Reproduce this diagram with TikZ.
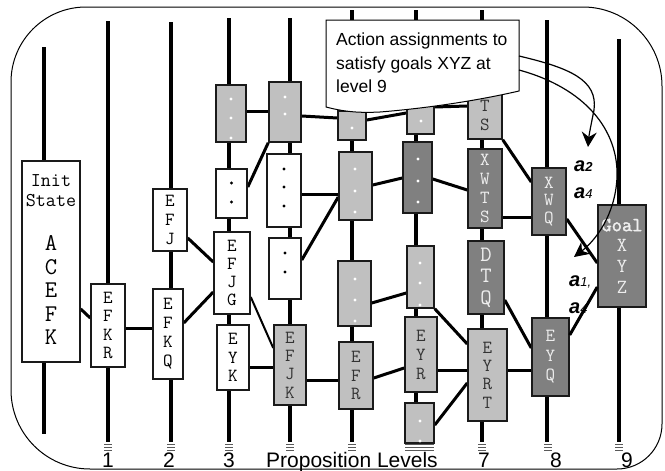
\documentclass[tikz,border=0pt]{standalone}
\usepackage{fontspec}
\setmainfont{Liberation Sans}
\newfontfamily\boldmono{Latin Modern Mono}[FakeBold=2]
\usetikzlibrary{arrows.meta,calc}
\pgfdeclarelayer{bg}
\pgfdeclarelayer{fg}
\pgfsetlayers{bg,main,fg}
\definecolor{lg}{HTML}{C0C0C0}
\definecolor{dg}{HTML}{808080}
\definecolor{bd}{HTML}{1A1A1A}
\definecolor{ltxt}{HTML}{333333}
\definecolor{dtxt}{HTML}{EEEEEE}
\tikzset{
  box/.style={draw=bd, line width=1.5pt, inner sep=0pt, align=center,
    font=\ttfamily\fontsize{18.5}{18.5}\selectfont},
  wbox/.style={box, fill=white, text=black},
  lbox/.style={box, fill=lg, text=ltxt},
  dbox/.style={box, fill=dg, text=dtxt},
  level/.style={line width=4.5pt, black},
  conn/.style={line width=3pt, black},
  thinconn/.style={line width=2pt, black},
  tick/.style={line width=0.7pt, black!65},
  arr/.style={line width=1.2pt, black, -{Stealth[length=15pt,width=15pt,inset=5pt]}},
  lab/.style={font=\fontsize{21}{21}\selectfont, anchor=base, inner sep=0pt},
  alab/.style={font=\fontsize{20}{20}\selectfont\bfseries\itshape, inner sep=0pt, anchor=west},
  txt/.style={inner sep=0pt, align=center},
}
\begin{document}
\begin{tikzpicture}[x=1pt,y=-1pt]
\useasboundingbox (0,0) rectangle (665,471);
% outer frame
\draw[line width=1pt] (86,7) -- (583,7) arc[start angle=-90,end angle=0,radius=79]
  -- (662,424) arc[start angle=0,end angle=90,radius=45]
  -- (90,469) arc[start angle=90,end angle=180,radius=79]
  -- (11,82) arc[start angle=180,end angle=270,radius=75] -- cycle;
% boxes
\node[wbox, minimum width=58pt, minimum height=201pt] (init) at (51,261.5) {};
\node[wbox, minimum width=34pt, minimum height=83pt] (efkr) at (108,325.5) {E\\F\\K\\R};
\node[wbox, minimum width=34pt, minimum height=62pt, font=\ttfamily\fontsize{18.5}{19}\selectfont] (efj) at (170,220) {E\\F\\J};
\node[wbox, minimum width=30pt, minimum height=90pt, font=\ttfamily\fontsize{18.5}{19}\selectfont] (efkq) at (168,334) {E\\F\\K\\Q};
\node[lbox, minimum width=30pt, minimum height=57pt] (gA) at (231,113.5) {};
\node[wbox, minimum width=31pt, minimum height=49pt] (wA) at (231.5,193.5) {};
\node[wbox, minimum width=36pt, minimum height=82pt, font=\ttfamily\fontsize{18.5}{18.3}\selectfont] (efjg) at (232,273) {E\\F\\J\\G};
\node[wbox, minimum width=32pt, minimum height=65pt] (eyk) at (233,357.5) {E\\Y\\K};
\node[lbox, minimum width=32pt, minimum height=60pt] (gB) at (285,112) {};
\node[wbox, minimum width=34pt, minimum height=73pt] (wB) at (284,190.5) {};
\node[wbox, minimum width=32pt, minimum height=61pt] (wC) at (285,268.5) {};
\node[lbox, minimum width=32pt, minimum height=80pt, font=\ttfamily\fontsize{18.5}{18.3}\selectfont] (efjk) at (290,365) {E\\F\\J\\K};
\node[lbox, minimum width=28pt, minimum height=29pt] (sC) at (352,125.5) {};
\node[lbox, minimum width=33pt, minimum height=68pt] (gC) at (355.5,186) {};
\node[lbox, minimum width=33pt, minimum height=65pt] (gE) at (354.5,293.5) {};
\node[lbox, minimum width=34pt, minimum height=67pt] (efr) at (356,375.5) {E\\F\\R};
\node[lbox, minimum width=27pt, minimum height=29pt] (tD) at (420.5,119.5) {};
\node[dbox, minimum width=29pt, minimum height=71pt] (dD) at (417.5,177.5) {};
\node[lbox, minimum width=27pt, minimum height=62pt] (lD) at (420.5,277) {};
\node[lbox, minimum width=32pt, minimum height=75pt, font=\ttfamily\fontsize{18.5}{19}\selectfont] (eyr) at (421,354.5) {E\\Y\\R};
\node[lbox, minimum width=29pt, minimum height=40pt] (bD) at (419.5,423) {};
\node[lbox, minimum width=34pt, minimum height=54pt] (ts) at (485,112) {};
\node[dbox, minimum width=34pt, minimum height=79pt, font=\ttfamily\fontsize{18.5}{18.7}\selectfont] (xwts) at (485,188.5) {X\\W\\T\\S};
\node[dbox, minimum width=36pt, minimum height=73pt, font=\ttfamily\fontsize{22}{21.5}\selectfont] (dtq) at (486,277.5) {D\\T\\Q};
\node[lbox, minimum width=39pt, minimum height=92pt, font=\ttfamily\fontsize{18.5}{18.3}\selectfont] (eyrt) at (487.5,375) {E\\Y\\R\\T};
\node[dbox, minimum width=34pt, minimum height=67pt, font=\ttfamily\fontsize{18.5}{17.5}\selectfont] (xwq) at (549,201.5) {X\\W\\Q};
\node[dbox, minimum width=37pt, minimum height=78pt, font=\ttfamily\fontsize{18.5}{19.5}\selectfont] (eyq) at (550.5,357) {E\\Y\\Q};
\node[dbox, minimum width=48pt, minimum height=102pt, font=\ttfamily\fontsize{20}{20.7}\selectfont] (goal) at (622,256) {{\boldmono Goal}\\X\\Y\\Z};
% texts placed inside boxes
\node[txt, font=\ttfamily\fontsize{19.5}{20}\selectfont] (initt1) at (51,191) {Init\\State};
\node[txt, font=\ttfamily\fontsize{24}{23.5}\selectfont] (initt2) at (51,290) {A\\C\\E\\F\\K};
\node[txt, text=ltxt, font=\ttfamily\fontsize{18.5}{19}\selectfont] (tst) at (485,115.5) {T\\S};
% dots
\foreach \y in {99,118,138} \fill[white] (231,\y) circle (1.6);
\foreach \y in {183,202} \fill[black] (231.5,\y) circle (1.6);
\foreach \y in {97,114} \fill[white] (285,\y) circle (1.6);
\foreach \y in {169,187,206} \fill[black] (284,\y) circle (1.6);
\foreach \y in {253,272} \fill[black] (285,\y) circle (1.6);
\fill[white] (352,128) circle (1.6);
\foreach \y in {169,191,212} \fill[white] (355,\y) circle (1.6);
\foreach \y in {279,300,321} \fill[white] (355,\y) circle (1.6);
\fill[white] (421,121) circle (1.6);
\foreach \y in {159,181,202} \fill[white] (418,\y) circle (1.6);
\foreach \y in {263,283,305} \fill[white] (420,\y) circle (1.6);
\foreach \y in {421,441} \fill[white] (420,\y) circle (1.6);
\begin{pgfonlayer}{bg}
% level lines
\draw[level] (44,47) -- (44,434);
\draw[level] (108,21) -- (108,442);
\draw[level] (171,22) -- (171,442);
\draw[level] (229,18) -- (229,442);
\draw[level] (290,18) -- (290,442);
\draw[level] (352,10) -- (352,442);
\draw[level] (416,10) -- (416,442);
\draw[level] (482,10) -- (482,442);
\draw[level] (547,20) -- (547,442);
\draw[level] (619,39) -- (619,442);
% connectors
\draw[conn] ($(init.east)+(0,47.5)$) -- ($(efkr.west)+(0,-7.5)$);
\draw[conn] ($(efkr.east)+(0,2.5)$) -- ($(efkq.west)+(0,-6)$);
\draw[conn] ($(efj.east)+(0,18)$) -- ($(efjg.west)+(0,-11)$);
\draw[conn] ($(efkq.east)+(0,-11)$) -- ($(efjg.west)+(0,19)$);
\draw[conn] ($(gA.east)+(0,-2.5)$) -- ($(gB.west)+(0,-1)$);
\draw[conn] ($(wA.east)+(0,-6.5)$) -- (gB.south west);
\draw[conn] ($(gB.east)+(0,4)$) -- ($(sC.west)+(0,-7.5)$);
\draw[conn] ($(sC.east)+(0,-5.5)$) -- ($(tD.west)+(0,-6.5)$);
\draw[conn] ($(tD.east)+(0,-12.5)$) -- ($(ts.west)+(0,-6)$);
\draw[conn] ($(wB.east)+(0,3.5)$) -- ($(gC.west)+(0,8)$);
\draw[conn] ($(wC.east)+(0,-8.5)$) -- ($(gC.west)+(0,11)$);
\draw[conn] ($(gC.east)+(0,-1)$) -- ($(dD.west)+(0,0.5)$);
\draw[conn] ($(dD.east)+(0,1.5)$) -- ($(xwts.west)+(0,1.5)$);
\draw[conn] ($(gE.east)+(0,9.5)$) -- ($(lD.west)+(0,16)$);
\draw[conn] (lD.south east) -- ($(eyrt.west)+(0,-31)$);
\draw[thinconn] ($(efjg.east)+(0,24)$) -- ($(efjk.west)+(0,-17)$);
\draw[conn] ($(eyk.east)+(0,9.5)$) -- ($(efjk.west)+(0,2)$);
\draw[conn] ($(efjk.east)+(0,15)$) -- ($(efr.west)+(0,4.5)$);
\draw[conn] ($(efr.east)+(0,2.5)$) -- ($(eyr.west)+(0,13.5)$);
\draw[conn] ($(eyr.east)+(0,15.5)$) -- ($(eyrt.west)+(0,-5)$);
\draw[conn] ($(bD.east)+(0,2)$) -- ($(eyrt.west)+(0,8)$);
\draw[conn] ($(eyrt.east)+(0,-5)$) -- ($(eyq.west)+(0,13)$);
\draw[conn] ($(dtq.east)+(0,22.5)$) -- ($(eyq.west)+(0,-9)$);
\draw[conn] (ts.south east) -- ($(xwq.west)+(0,-19.5)$);
\draw[conn] ($(xwts.east)+(0,28.5)$) -- ($(xwq.west)+(0,15.5)$);
\draw[conn] ($(xwq.east)+(0,17.5)$) -- ($(goal.west)+(0,7)$);
\end{pgfonlayer}
\begin{pgfonlayer}{fg}
% ticks under the levels
\foreach \x in {108,171,229,290,352,482,548,619}
  \foreach \y in {444,447,450} \draw[tick] (\x-4,\y) -- (\x+4,\y);
\foreach \y in {444,447,450} \draw[tick] (405,\y) -- (434,\y);
% callout
\draw[line width=1pt, fill=white] (326,107) -- (326,20) -- (519,20) -- (519,91)
  .. controls (480,100) and (430,108) .. (380,112)
  .. controls (360,113) and (345,112) .. (326,107) -- cycle;
\node[anchor=north west, inner sep=0pt, align=left, font=\fontsize{17.5}{23.5}\selectfont] (ctext) at (336,33)
  {Action assignments to\\satisfy goals XYZ at\\level 9};
\coordinate (s1) at (519,56);
\coordinate (s2) at (519,70);
\coordinate (t1) at (588,147);
\coordinate (t2) at (574,257);
\draw[arr] (s1) .. controls (570,68) and (598,80) .. (594,110) .. controls (591,125) and (589,135) .. (t1);
\draw[arr] (s2) .. controls (585,88) and (619,130) .. (617,178) .. controls (615,215) and (596,240) .. (t2);
% action labels
\node[alab] (a2) at (574,166) {a{\fontsize{13}{13}\selectfont 2}};
\node[alab] (a4) at (574,193) {a{\fontsize{13}{13}\selectfont\mdseries 4}};
\node[alab] (a1) at (569,282) {a{\fontsize{13}{13}\selectfont\mdseries 1,}};
\node[alab] (a3) at (569,308) {a{\fontsize{13}{13}\selectfont\mdseries 4}};
\draw[conn] ($(eyq.east)+(0,-22)$) -- ($(goal.west)+(0,31)$);
% bottom labels
\node[lab] (l1) at (108,467) {1};
\node[lab] (l2) at (169,467) {2};
\node[lab] (l3) at (229,467) {3};
\node[lab] (lp) at (352,467) {Proposition Levels};
\node[lab] (l7) at (484,467) {7};
\node[lab] (l8) at (556,467) {8};
\node[lab] (l9) at (627,467) {9};
\end{pgfonlayer}
\end{tikzpicture}
\end{document}
